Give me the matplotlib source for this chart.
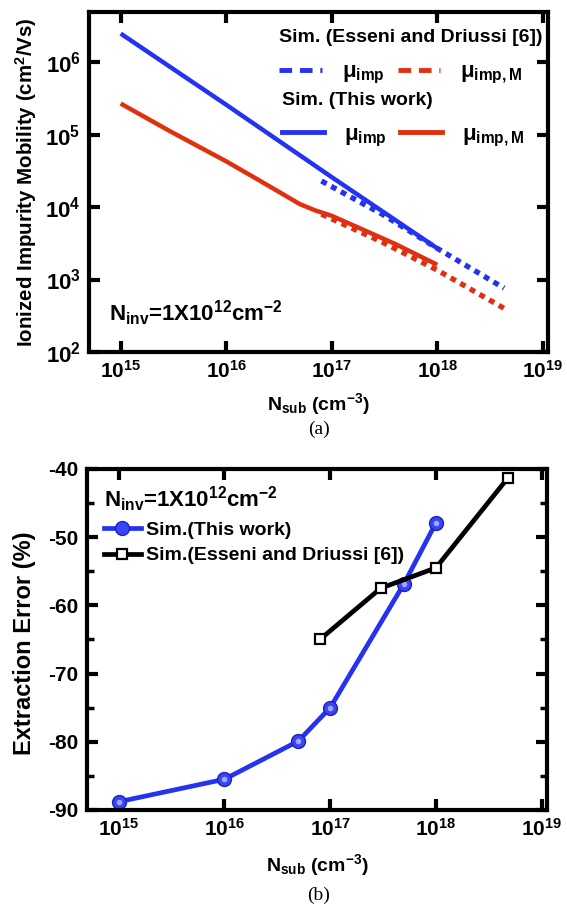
import numpy as np
import matplotlib
matplotlib.use('Agg')
import matplotlib.pyplot as plt
from matplotlib.lines import Line2D

plt.rcParams['font.family'] = ['Liberation Sans', 'DejaVu Sans']
plt.rcParams['font.weight'] = 'bold'
plt.rcParams['axes.labelweight'] = 'bold'
plt.rcParams['axes.unicode_minus'] = False
plt.rcParams['mathtext.fontset'] = 'custom'
plt.rcParams['mathtext.rm'] = 'Liberation Sans:bold'
plt.rcParams['mathtext.it'] = 'Liberation Sans:bold'
plt.rcParams['mathtext.bf'] = 'Liberation Sans:bold'
plt.rcParams['mathtext.default'] = 'rm'

BLUE = '#2433f0'
RED = '#e0300f'

# (a) mobility vs substrate doping
nsub_this_blue = [1e15, 1e16, 1e17, 1e18]
mu_imp_this = [2.5e6, 2.6e5, 2.6e4, 2.7e3]
nsub_this_red = [1e15, 3e15, 1e16, 2e16, 3e16, 5e16, 7e16, 1e17, 4e17, 1e18]
mu_impM_this = [2.7e5, 1.1e5, 4.3e4, 2.4e4, 1.7e4, 1.1e4, 9.0e3, 7.6e3, 3.1e3, 1.6e3]
nsub_esseni = [8e16, 3e17, 1e18, 4.3e18]
mu_imp_esseni = [2.3e4, 8.0e3, 2.7e3, 7.6e2]
mu_impM_esseni = [8.0e3, 3.3e3, 1.35e3, 4.0e2]

# (b) extraction error
nsub_err_this = [1e15, 1e16, 5e16, 1e17, 5e17, 1e18]
err_this = [-88.8, -85.5, -79.9, -75.0, -56.8, -47.9]
nsub_err_esseni = [8e16, 3e17, 1e18, 4.8e18]
err_esseni = [-65.0, -57.5, -54.5, -41.3]

xlim = (10**14.7, 10**19.05)
dots = (0, (1.1, 1.0))

fig = plt.figure(figsize=(5.67, 9.07), dpi=100)
ax1 = fig.add_axes([0.157, 0.612, 0.8095, 0.375])
ax2 = fig.add_axes([0.1534, 0.107, 0.8113, 0.376])

def style(ax):
    for s in ax.spines.values():
        s.set_linewidth(3.0)
    ax.tick_params(which='major', direction='in', length=8, width=3,
                   top=True, right=True, labelsize=15, pad=6)
    ax.tick_params(which='minor', direction='in', length=5, width=2.5,
                   top=True, right=True)
    ax.set_xscale('log')
    ax.set_xlim(*xlim)
    ax.set_xticks([1e15, 1e16, 1e17, 1e18, 1e19])
    ax.xaxis.set_minor_locator(matplotlib.ticker.NullLocator())

# ---- (a)
ax1.plot(nsub_this_blue, mu_imp_this, color=BLUE, lw=3.2, solid_capstyle='butt')
ax1.plot(nsub_this_red, mu_impM_this, color=RED, lw=3.2, solid_capstyle='butt')
ax1.plot(nsub_esseni, mu_imp_esseni, color=BLUE, lw=3.8, linestyle=dots)
ax1.plot(nsub_esseni, mu_impM_esseni, color=RED, lw=3.8, linestyle=dots)
ax1.set_yscale('log')
style(ax1)
ax1.tick_params(axis='y', labelsize=16)
ax1.set_ylim(1e2, 5e6)
ax1.set_yticks([1e2, 1e3, 1e4, 1e5, 1e6])
ax1.yaxis.set_minor_locator(matplotlib.ticker.NullLocator())
ax1.set_ylabel('Ionized Impurity Mobility (cm$^2$/Vs)', fontsize=14.8)
ax1.yaxis.set_label_coords(-0.11, 0.5)
ax1.set_xlabel('N$_{sub}$ (cm$^{-3}$)', fontsize=14)
ax1.xaxis.set_label_coords(0.5, -0.115)
ax1.text(0.044, 0.09, 'N$_{inv}$=1X10$^{12}$cm$^{-2}$', transform=ax1.transAxes,
         fontsize=16)

dash_h = dict(lw=3.5, dashes=(2.6, 1.6))
h_ess = [Line2D([], [], color=BLUE, **dash_h), Line2D([], [], color=RED, **dash_h)]
h_this = [Line2D([], [], color=BLUE, lw=3.5), Line2D([], [], color=RED, lw=3.5)]
labels = ['μ$_{imp}$', 'μ$_{imp,M}$']
leg_kw = dict(loc='upper left', ncol=2, frameon=False, fontsize=16,
              handlelength=1.9, handletextpad=0.9, columnspacing=0.6,
              labelspacing=0.7, borderaxespad=0, borderpad=0, alignment='left',
              title_fontproperties={'weight': 'bold', 'size': 14})
leg1 = ax1.legend(h_ess, labels, title='Sim. (Esseni and Driussi [6])',
                  bbox_to_anchor=(0.415, 0.95), **leg_kw)
ax1.add_artist(leg1)
ax1.legend(h_this, labels, title='Sim. (This work)',
           bbox_to_anchor=(0.42, 0.765), **leg_kw)

# ---- (b)
ax2.plot(nsub_err_this, err_this, color=BLUE, lw=3.4, marker='o', ms=10,
         mfc='#3944f5', mec='#1a24c0', mew=1.0, label='Sim.(This work)')
ax2.plot(nsub_err_this, err_this, ls='none', marker='o', ms=4,
         mfc='#9fa6ff', mec='none')
ax2.plot(nsub_err_esseni, err_esseni, color='black', lw=3.4, marker='s', ms=7.5,
         mfc='white', mec='black', mew=1.6, label='Sim.(Esseni and Driussi [6])')
style(ax2)
ax2.set_ylim(-90, -40)
ax2.set_yticks(np.arange(-90, -39, 10))
ax2.yaxis.set_minor_locator(matplotlib.ticker.MultipleLocator(5))
ax2.set_ylabel('Extraction Error (%)', fontsize=17)
ax2.yaxis.set_label_coords(-0.11, 0.49)
ax2.set_xlabel('N$_{sub}$ (cm$^{-3}$)', fontsize=14)
ax2.xaxis.set_label_coords(0.5, -0.125)
ax2.legend(loc='upper left', bbox_to_anchor=(0.02, 0.978), frameon=False,
           fontsize=14, handlelength=1.9, handletextpad=0.25, labelspacing=0.4,
           borderaxespad=0, title='N$_{inv}$=1X10$^{12}$cm$^{-2}$',
           title_fontproperties={'weight': 'bold', 'size': 16}, alignment='left')

fig.text(0.562, 0.522, '(a)', fontsize=14, family='Liberation Serif',
         weight='normal', ha='center')
fig.text(0.562, 0.008, '(b)', fontsize=14, family='Liberation Serif',
         weight='normal', ha='center')

fig.savefig('out.png', dpi=100)
